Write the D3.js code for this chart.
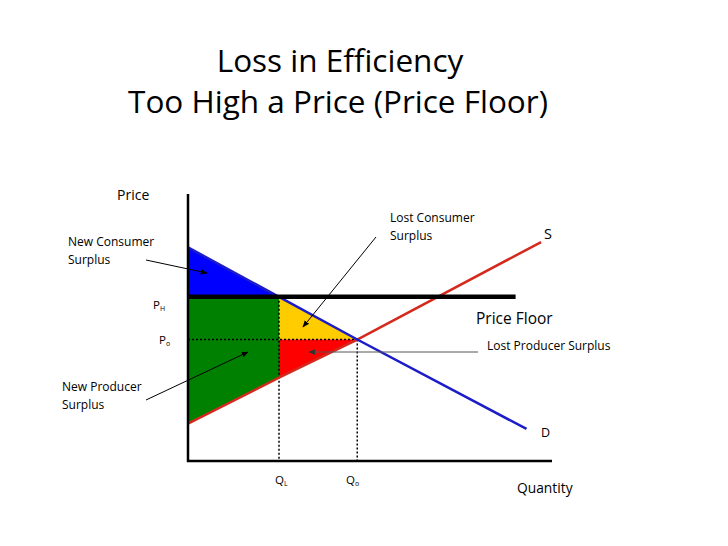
<!DOCTYPE html>
<html lang="en">
<head>
<meta charset="UTF-8">
<title>Loss in Efficiency - Price Floor</title>
<script src="https://d3js.org/d3.v7.min.js"></script>
<style>
    body { margin: 0; background: #fff; font-family: "Open Sans", sans-serif; }
    text { font-family: "Open Sans", sans-serif; fill: #000; }
    .title { font-size: 31.5px; }
</style>
</head>
<body>
<svg id="chart" width="728" height="546"></svg>
<script>
    // curves (quantity, price in 0..100 units)
    let demandQ = [0, 25, 46.5, 93]
    let demandP = [80, 61.5, 45.5, 12]
    let supplyQ = [0, 25, 46.5, 97]
    let supplyP = [14, 31.2, 45.5, 82]

    let pH = 61.5       // price floor
    let p0 = 45.5       // equilibrium price
    let qL = 25         // quantity demanded at the floor
    let q0 = 46.5       // equilibrium quantity
    let floorEndQ = 90

    let svg = d3.select("#chart")
    let x = d3.scaleLinear().domain([0, 100]).range([188, 552])
    let y = d3.scaleLinear().domain([0, 100]).range([461, 194])

    let demand = demandQ.map((q, i) => [q, demandP[i]])
    let supply = supplyQ.map((q, i) => [q, supplyP[i]])
    let sL = supplyP[1]

    let line = d3.line().x(d => x(d[0])).y(d => y(d[1]))
    let poly = pts => line(pts) + "Z"

    // surplus areas
    let areas = [
        { pts: [[0, demandP[0]], [qL, pH], [0, pH]], color: "#0000ff" },
        { pts: [[0, pH], [qL, pH], [qL, sL], [0, supplyP[0]]], color: "#008000" },
        { pts: [[qL, pH], [q0, p0], [qL, p0]], color: "#ffcc00" },
        { pts: [[qL, p0], [q0, p0], [qL, sL]], color: "#ff0000" }
    ]
    svg.selectAll(".area").data(areas).enter().append("path")
        .attr("d", d => poly(d.pts))
        .attr("fill", d => d.color)

    // dotted guides
    let guides = [
        [[0, p0], [q0, p0]],
        [[qL, pH], [qL, 0]],
        [[q0, p0], [q0, 0]]
    ]
    svg.selectAll(".guide").data(guides).enter().append("path")
        .attr("d", line)
        .attr("stroke", "#000")
        .attr("stroke-width", 1.5)
        .attr("stroke-dasharray", "2,2")
        .attr("fill", "none")

    // supply and demand
    svg.append("path").attr("d", line(supply))
        .attr("stroke", "#d42a1e").attr("stroke-width", 2.5).attr("fill", "none")
    svg.append("path").attr("d", line(demand))
        .attr("stroke", "#1c1cc8").attr("stroke-width", 2.5).attr("fill", "none")

    // price floor
    svg.append("path").attr("d", line([[0, pH], [floorEndQ, pH]]))
        .attr("stroke", "#000").attr("stroke-width", 4.5)

    // axes (no ticks)
    svg.append("path").attr("d", line([[0, 100], [0, 0], [100, 0]]))
        .attr("stroke", "#000").attr("stroke-width", 2.5).attr("fill", "none")

    // arrow heads
    let defs = svg.append("defs")
    let marker = (id, color) => defs.append("marker")
        .attr("id", id).attr("viewBox", "0 0 10 10")
        .attr("refX", 9).attr("refY", 5)
        .attr("markerWidth", 7).attr("markerHeight", 7)
        .attr("orient", "auto")
        .append("path").attr("d", "M0,1L10,5L0,9Z").attr("fill", color)
    marker("ah", "#000")
    marker("ahg", "#333")

    let arrows = [
        { from: [146, 260], to: [207, 273], color: "#000", m: "ah" },
        { from: [376, 237], to: [303, 327], color: "#000", m: "ah" },
        { from: [146, 400], to: [248, 352], color: "#000", m: "ah" },
        { from: [478, 352], to: [309, 352], color: "#555", m: "ahg" }
    ]
    svg.selectAll(".arrow").data(arrows).enter().append("line")
        .attr("x1", d => d.from[0]).attr("y1", d => d.from[1])
        .attr("x2", d => d.to[0]).attr("y2", d => d.to[1])
        .attr("stroke", d => d.color).attr("stroke-width", 1)
        .attr("marker-end", d => "url(#" + d.m + ")")

    // titles
    svg.append("text").attr("class", "title").attr("x", 340).attr("y", 72)
        .attr("text-anchor", "middle").text("Loss in Efficiency")
    svg.append("text").attr("class", "title").attr("x", 338).attr("y", 113)
        .attr("text-anchor", "middle").text("Too High a Price (Price Floor)")

    // labels
    let labels = [
        { t: "Price", x: 117, y: 200, s: 14 },
        { t: "New Consumer", x: 68, y: 246, s: 12 },
        { t: "Surplus", x: 68, y: 264, s: 12 },
        { t: "New Producer", x: 62, y: 391, s: 12 },
        { t: "Surplus", x: 62, y: 409, s: 12 },
        { t: "Lost Consumer", x: 390, y: 222, s: 12 },
        { t: "Surplus", x: 390, y: 240, s: 12 },
        { t: "S", x: 544, y: 239, s: 14.5 },
        { t: "Price Floor", x: 476, y: 324, s: 15.5 },
        { t: "Lost Producer Surplus", x: 487, y: 350, s: 12 },
        { t: "D", x: 541, y: 437, s: 12.5 },
        { t: "Quantity", x: 517, y: 493, s: 13.8 }
    ]
    svg.selectAll(".lbl").data(labels).enter().append("text")
        .attr("x", d => d.x).attr("y", d => d.y)
        .style("font-size", d => d.s + "px")
        .text(d => d.t)

    // subscripted axis marks
    let marks = [
        { m: "P", sub: "H", x: 153, y: 309 },
        { m: "P", sub: "o", x: 159, y: 344 },
        { m: "Q", sub: "L", x: 275, y: 484 },
        { m: "Q", sub: "o", x: 346, y: 484 }
    ]
    let mk = svg.selectAll(".mark").data(marks).enter().append("text")
        .attr("x", d => d.x).attr("y", d => d.y)
        .style("font-size", "11.5px")
    mk.append("tspan").text(d => d.m)
    mk.append("tspan").attr("dy", 2).style("font-size", "7px").text(d => d.sub)
</script>
</body>
</html>
